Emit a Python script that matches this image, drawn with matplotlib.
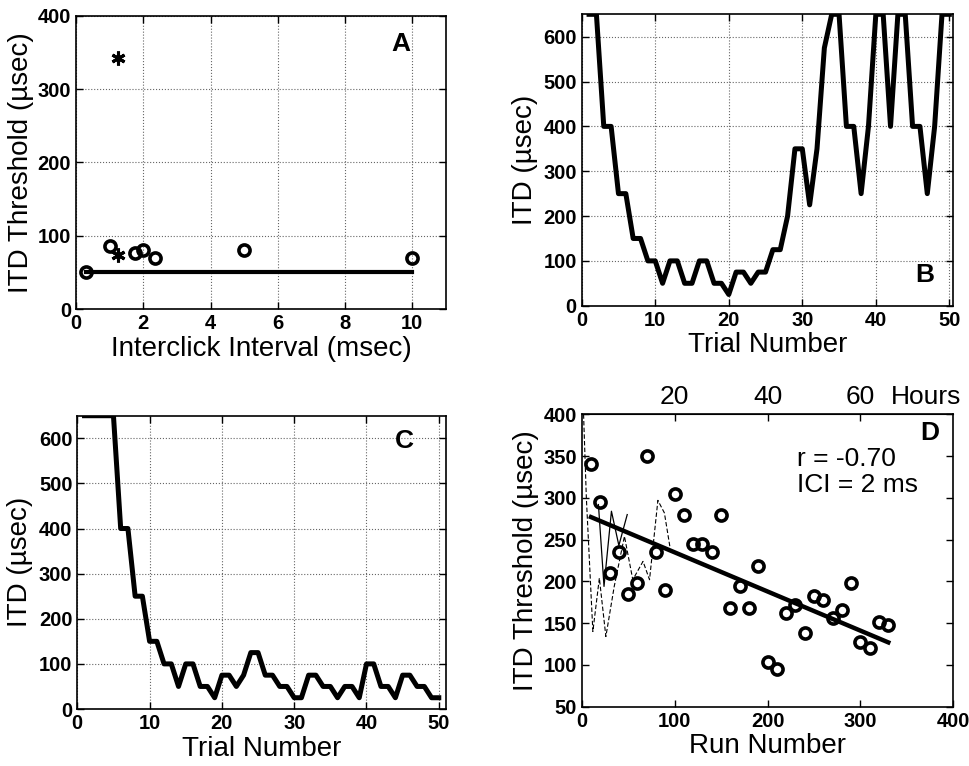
import numpy as np
import matplotlib
matplotlib.use('Agg')
import matplotlib.pyplot as plt

plt.rcParams['font.family'] = ['Liberation Sans', 'DejaVu Sans']

# Panel A: threshold vs interclick interval
ici_circ = [0.3, 1.0, 1.75, 2.0, 2.35, 5.0, 10.0]
thr_circ = [50, 86, 76, 81, 69, 80, 70]
ici_star = [1.25, 1.25]
thr_star = [342, 74]
ici_line = [0.3, 10.0]
thr_line = [50, 50]

# Panels B and C: adaptive tracks (trial 1..50)
trials = np.arange(1, 51)
itd_b = [650, 650, 400, 400, 250, 250, 150, 150, 100, 100,
         50, 100, 100, 50, 50, 100, 100, 50, 50, 25,
         75, 75, 50, 75, 75, 125, 125, 200, 350, 350,
         225, 350, 575, 650, 650, 400, 400, 250, 400, 650,
         650, 400, 650, 650, 400, 400, 250, 400, 650, 650]
itd_c = [650, 650, 650, 650, 650, 400, 400, 250, 250, 150,
         150, 100, 100, 50, 100, 100, 50, 50, 25, 75,
         75, 50, 75, 125, 125, 75, 75, 50, 50, 25,
         25, 75, 75, 50, 50, 25, 50, 50, 25, 100,
         100, 50, 50, 25, 75, 75, 50, 50, 25, 25]

# Panel D: threshold vs run number
runs = [10, 20, 30, 40, 50, 60, 70, 80, 90, 100, 110, 120, 130, 140, 150, 160, 170,
        180, 190, 200, 210, 220, 230, 240, 250, 260, 270, 280, 290, 300, 310, 320, 330]
thr_runs = [340, 295, 210, 235, 185, 198, 350, 235, 190, 305, 280, 245, 245, 235, 280, 168, 195,
            168, 218, 103, 95, 162, 172, 138, 182, 178, 156, 166, 198, 128, 120, 152, 148]
fit_runs = [10, 330]
fit_thr = [277, 127]
dash_runs = [2, 5, 12, 19, 26, 35, 46, 55, 66, 73, 82, 89, 95]
dash_thr = [400, 300, 140, 204, 134, 194, 254, 202, 224, 202, 297, 282, 241]
thin_runs = [18, 24, 32, 40, 49]
thin_thr = [292, 194, 284, 243, 280]
hour_ticks = [20, 40, 60]

TICK_FS = 14.5
LABEL_FS = 20
LETTER_FS = 19


def style(ax, xticks, yticks, grid=True, top=True):
    ax.set_xticks(xticks, [str(t) for t in xticks], fontweight='bold')
    ax.set_yticks(yticks, [str(t) for t in yticks], fontweight='bold')
    ax.tick_params(direction='in', top=top, right=True, length=5, width=1,
                   labelsize=TICK_FS, pad=3.5)
    for s in ax.spines.values():
        s.set_linewidth(1.2)
    if grid:
        ax.grid(True, linestyle=':', color='0.4', linewidth=0.8)


fig = plt.figure(figsize=(9.7, 7.66), dpi=100)

# A
ax = fig.add_axes([0.0784, 0.5966, 0.3814, 0.3829])
ax.plot(ici_line, thr_line, color='k', lw=3)
ax.plot(ici_circ, thr_circ, 'o', mfc='none', mec='k', ms=8, mew=2.6)
ax.plot(ici_star, thr_star, marker=(6, 2, 0), ls='none', color='k', ms=10, mew=2.2)
ax.set_xlim(0, 11)
ax.set_ylim(0, 400)
style(ax, [0, 2, 4, 6, 8, 10], [0, 100, 200, 300, 400])
ax.set_xlabel('Interclick Interval (msec)', fontsize=LABEL_FS, labelpad=2)
ax.set_ylabel('ITD Threshold (µsec)', fontsize=LABEL_FS, labelpad=3)
ax.text(0.878, 0.904, 'A', transform=ax.transAxes, fontsize=LETTER_FS, fontweight='bold',
        ha='center', va='center')

# B
ax = fig.add_axes([0.5997, 0.6009, 0.3828, 0.3804])
ax.plot(trials, itd_b, color='k', lw=3.6)
ax.set_xlim(0, 50.5)
ax.set_ylim(0, 650)
style(ax, [0, 10, 20, 30, 40, 50], [0, 100, 200, 300, 400, 500, 600])
ax.set_xlabel('Trial Number', fontsize=LABEL_FS, labelpad=2)
ax.set_ylabel('ITD (µsec)', fontsize=LABEL_FS, labelpad=4)
ax.text(0.923, 0.105, 'B', transform=ax.transAxes, fontsize=LETTER_FS, fontweight='bold',
        ha='center', va='center')

# C
ax = fig.add_axes([0.0797, 0.0744, 0.3801, 0.3829])
ax.plot(trials, itd_c, color='k', lw=3.6)
ax.set_xlim(0, 51)
ax.set_ylim(0, 650)
style(ax, [0, 10, 20, 30, 40, 50], [0, 100, 200, 300, 400, 500, 600])
ax.set_xlabel('Trial Number', fontsize=LABEL_FS, labelpad=2)
ax.set_ylabel('ITD (µsec)', fontsize=LABEL_FS, labelpad=4)
ax.text(0.887, 0.914, 'C', transform=ax.transAxes, fontsize=LETTER_FS, fontweight='bold',
        ha='center', va='center')

# D
ax = fig.add_axes([0.5997, 0.0774, 0.3831, 0.3817])
ax.plot(dash_runs, dash_thr, color='k', lw=0.8, ls=(0, (4, 2)))
ax.plot(thin_runs, thin_thr, color='k', lw=0.9)
ax.plot(fit_runs, fit_thr, color='k', lw=3.2)
ax.plot(runs, thr_runs, 'o', mfc='none', mec='k', ms=8, mew=2.6)
ax.set_xlim(0, 400)
ax.set_ylim(50, 400)
style(ax, [0, 100, 200, 300, 400], [50, 100, 150, 200, 250, 300, 350, 400],
      grid=False, top=False)
ax.set_xlabel('Run Number', fontsize=LABEL_FS, labelpad=2)
ax.set_ylabel('ITD Threshold (µsec)', fontsize=LABEL_FS, labelpad=3)
sec = ax.secondary_xaxis('top', functions=(lambda r: r / 5.0, lambda h: h * 5.0))
sec.set_xticks(hour_ticks, [str(h) for h in hour_ticks])
sec.tick_params(direction='in', length=5, width=1, labelsize=19, pad=4)
ax.annotate('Hours', xy=(370.6, 1.0), xycoords=('data', 'axes fraction'),
            xytext=(0, 4), textcoords='offset points', ha='center', va='bottom',
            fontsize=19)
ax.text(0.579, 0.823, 'r = -0.70', transform=ax.transAxes, fontsize=19, va='baseline')
ax.text(0.579, 0.735, 'ICI = 2 ms', transform=ax.transAxes, fontsize=19, va='baseline')
ax.text(0.937, 0.935, 'D', transform=ax.transAxes, fontsize=LETTER_FS, fontweight='bold',
        ha='center', va='center')

fig.savefig('out.png', dpi=100)
